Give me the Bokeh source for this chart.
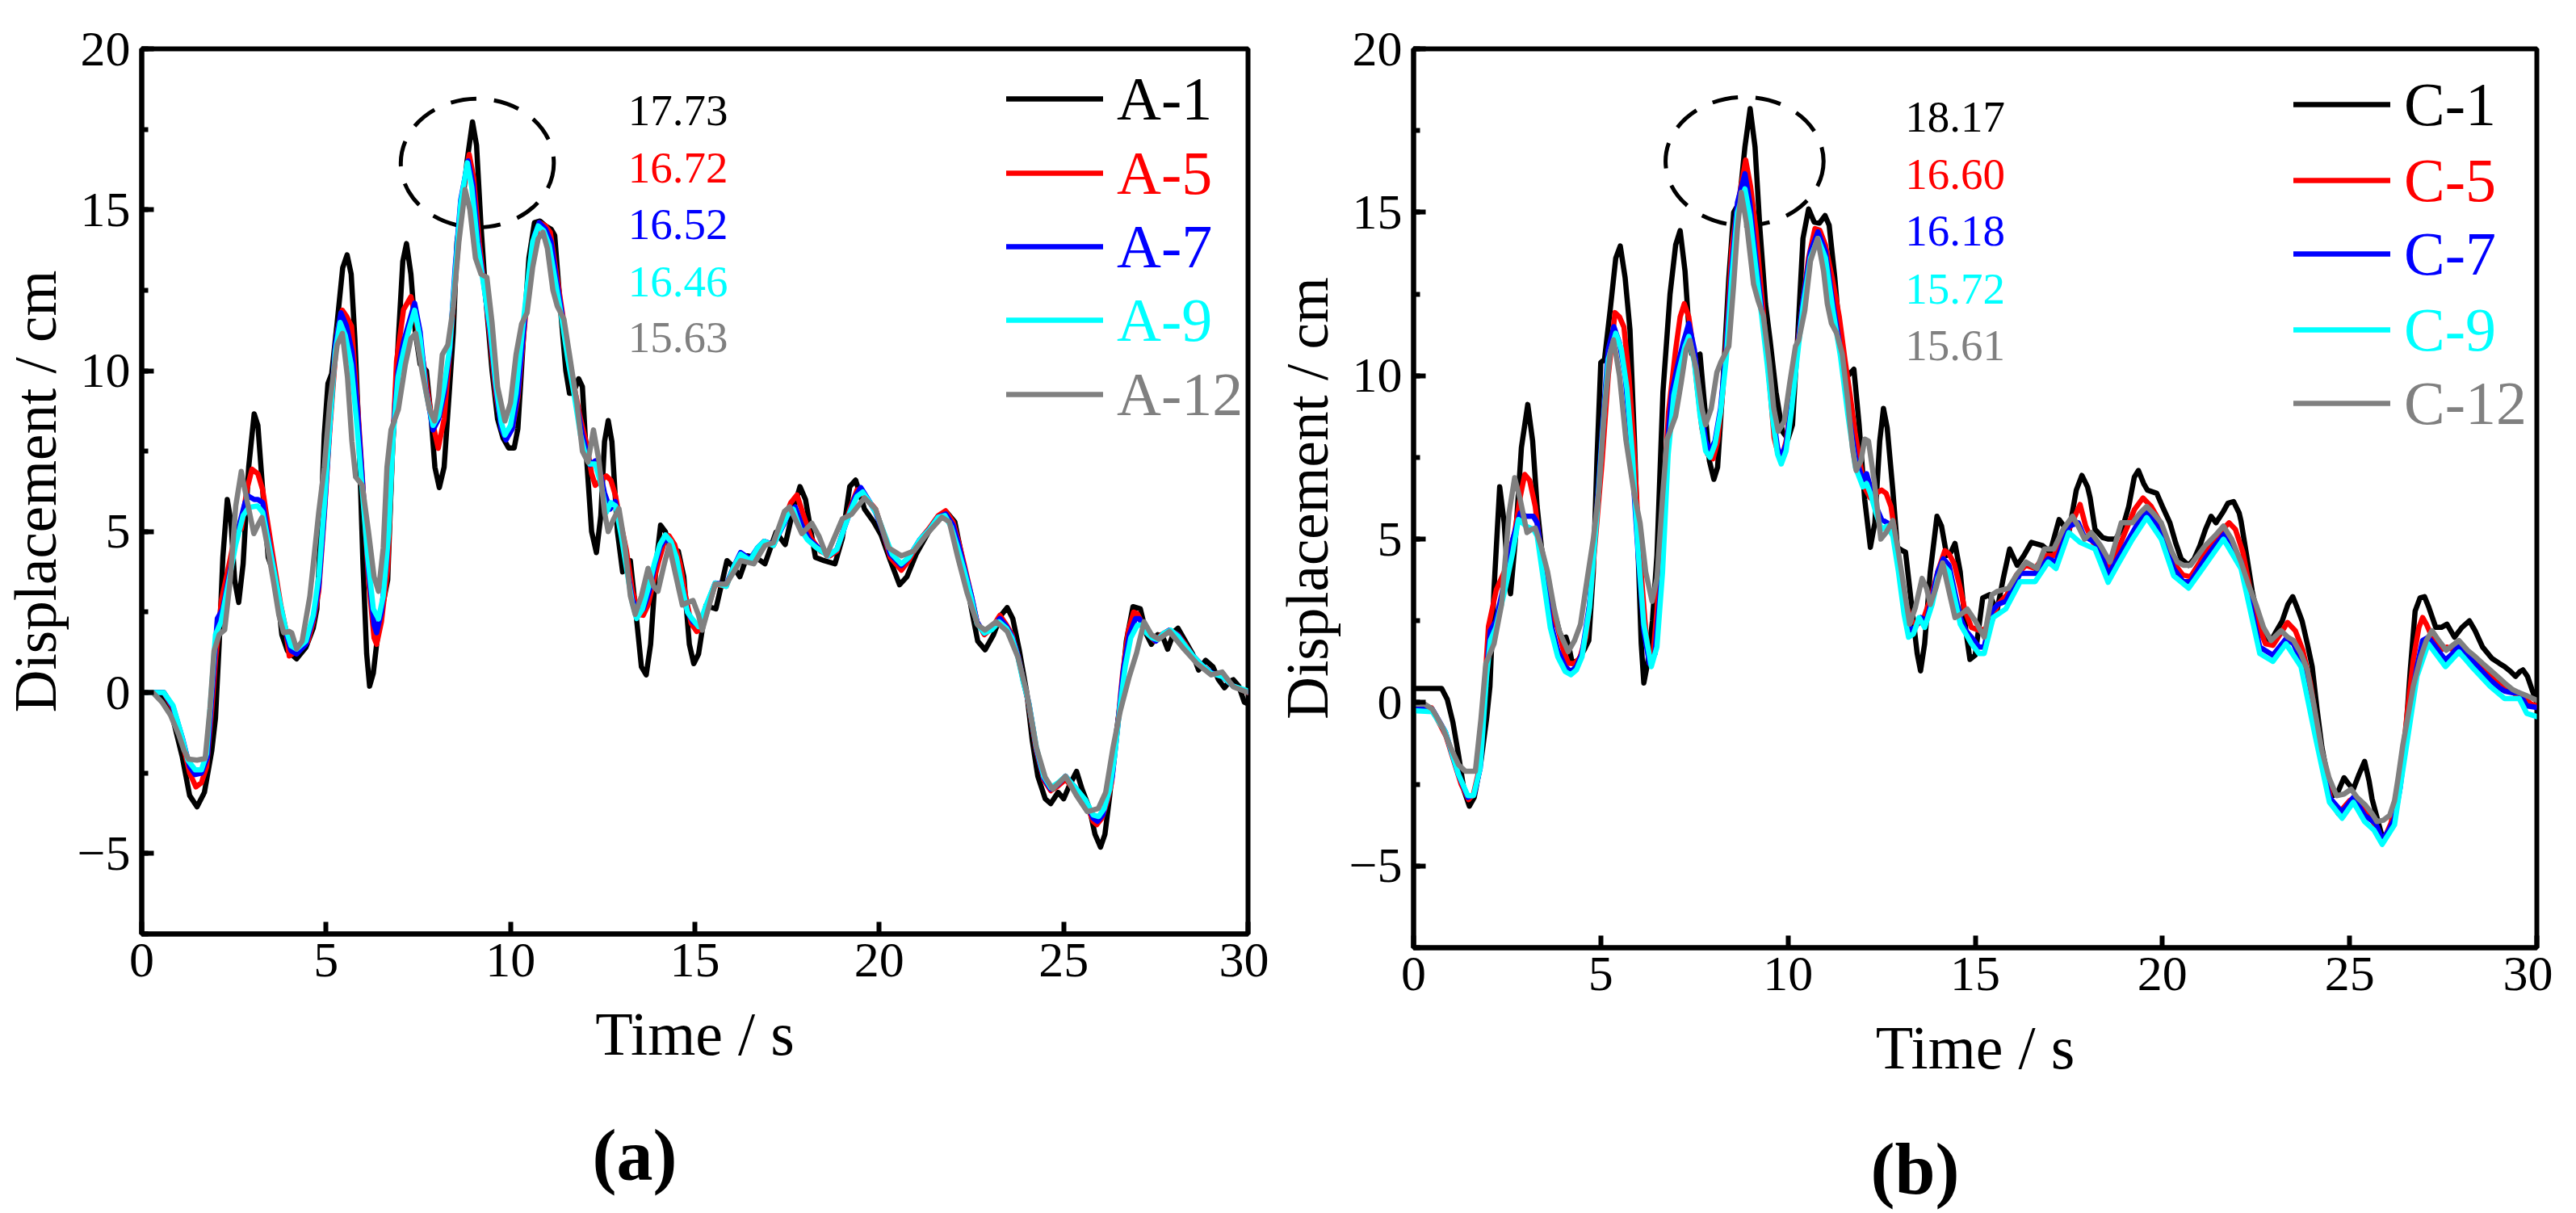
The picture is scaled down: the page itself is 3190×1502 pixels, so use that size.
from bokeh.plotting import figure
from bokeh.models import Range1d, SingleIntervalTicker, Legend, LegendItem, Label, Title
from bokeh.layouts import row
from bokeh.embed import file_html
from bokeh.resources import INLINE

# ---------------- data (time s, displacement cm) ----------------
A1 = [(0,0),(0.5,0),(0.8,-0.6),(1.1,-2.0),(1.3,-3.2),(1.5,-3.55),(1.7,-3.1),(1.9,-1.8),(2.0,-0.8),(2.1,1.5),
      (2.2,4.2),(2.32,6.0),(2.42,5.3),(2.52,3.5),(2.63,2.8),(2.75,4.0),(2.9,7.0),(3.05,8.66),(3.15,8.3),(3.3,6.0),
      (3.43,4.2),(3.55,3.8),(3.65,3.4),(3.8,1.8),(3.95,1.3),(4.2,1.05),(4.45,1.4),(4.65,2.0),(4.75,2.6),(4.85,5.0),
      (4.95,8.0),(5.05,9.6),(5.15,9.9),(5.3,11.5),(5.45,13.2),(5.57,13.6),(5.68,13.0),(5.78,11.0),(5.88,8.3),(6.0,4.0),
      (6.1,1.2),(6.18,0.2),(6.28,0.6),(6.4,1.8),(6.55,2.8),(6.67,3.5),(6.8,7.5),(6.96,11.0),(7.08,13.4),(7.18,13.95),
      (7.3,13.0),(7.42,11.2),(7.55,10.2),(7.72,10.0),(7.85,8.5),(7.95,7.0),(8.07,6.37),(8.2,7.0),(8.35,9.5),(8.45,11.2),
      (8.55,14.0),(8.7,15.2),(8.82,16.5),(8.97,17.73),(9.08,17.0),(9.2,14.5),(9.35,12.0),(9.5,10.0),(9.65,8.5),(9.8,7.9),
      (9.95,7.6),(10.1,7.6),(10.2,8.2),(10.35,11.0),(10.5,13.5),(10.65,14.6),(10.8,14.65),(10.95,14.5),(11.1,14.4),(11.2,14.2),
      (11.35,12.0),(11.5,10.0),(11.6,9.3),(11.7,9.3),(11.85,9.75),(11.95,9.5),(12.05,7.5),(12.2,5.0),(12.33,4.35),(12.45,5.5),
      (12.55,7.8),(12.65,8.45),(12.75,7.8),(12.9,5.0),(13.04,3.75),(13.15,4.1),(13.25,4.1),(13.4,2.5),(13.55,0.8),(13.68,0.55),
      (13.8,1.5),(13.95,4.0),(14.07,5.2),(14.2,5.0),(14.35,4.4),(14.55,4.4),(14.7,3.6),(14.85,1.5),(14.97,0.9),(15.1,1.2),
      (15.3,2.7),(15.57,2.6),(15.87,4.1),(16.05,3.9),(16.22,3.6),(16.42,4.25),(16.65,4.2),(16.9,4.0),(17.2,4.98),(17.45,4.6),
      (17.65,5.6),(17.85,6.4),(18.0,6.0),(18.27,4.2),(18.5,4.1),(18.8,4.0),(19.0,4.8),(19.2,6.4),(19.36,6.6),(19.6,5.7),
      (19.85,5.3),(20.05,4.9),(20.3,4.1),(20.55,3.35),(20.75,3.6),(21.0,4.3),(21.34,5.0),(21.6,5.4),(21.83,5.6),(22.05,5.3),
      (22.28,4.0),(22.5,2.6),(22.67,1.6),(22.87,1.33),(23.1,1.8),(23.3,2.4),(23.47,2.64),(23.62,2.3),(23.8,1.3),(24.0,0.0),
      (24.15,-1.5),(24.3,-2.6),(24.5,-3.3),(24.65,-3.45),(24.85,-3.1),(25.0,-3.3),(25.15,-2.9),(25.35,-2.45),(25.5,-3.0),(25.7,-3.6),
      (25.85,-4.4),(26.0,-4.8),(26.12,-4.4),(26.25,-3.2),(26.4,-1.5),(26.55,-0.2),(26.7,1.6),(26.88,2.67),(27.08,2.6),(27.25,1.8),
      (27.38,1.5),(27.55,1.8),(27.7,1.7),(27.82,1.35),(28.0,1.9),(28.1,2.0),(28.3,1.6),(28.5,1.2),(28.66,0.7),(28.85,1.0),
      (29.05,0.8),(29.2,0.4),(29.36,0.15),(29.5,0.35),(29.6,0.4),(29.75,0.2),(29.9,-0.3),(30.0,-0.35)]

A5 = [(0,0),(0.6,0),(0.85,-0.5),(1.08,-1.43),(1.3,-2.5),(1.47,-2.93),(1.62,-2.8),(1.76,-2.3),(1.9,-0.5),(2.0,1.0),
      (2.16,2.86),(2.4,4.15),(2.55,5.0),(2.7,5.08),(2.85,6.3),(2.99,6.94),(3.15,6.8),(3.28,6.3),(3.4,5.4),(3.53,4.44),
      (3.77,2.72),(3.9,2.0),(4.0,1.14),(4.2,1.29),(4.5,1.57),(4.65,2.2),(4.8,3.15),(4.95,5.5),(5.1,8.16),(5.3,11.2),
      (5.44,11.88),(5.55,11.7),(5.69,11.38),(5.85,9.0),(5.98,6.73),(6.15,3.5),(6.3,1.7),(6.37,1.5),(6.5,2.2),(6.67,3.86),
      (6.8,7.5),(6.91,10.3),(7.1,11.9),(7.3,12.3),(7.45,11.5),(7.65,10.16),(7.85,8.6),(8.04,7.59),(8.2,8.5),(8.33,10.3),
      (8.53,13.2),(8.7,15.5),(8.88,16.72),(9.0,16.0),(9.15,14.0),(9.31,12.45),(9.45,11.0),(9.6,9.3),(9.75,8.3),(9.9,7.94),
      (10.05,8.2),(10.2,9.16),(10.35,11.0),(10.49,12.74),(10.65,14.0),(10.78,14.6),(10.95,14.5),(11.08,14.3),(11.25,13.0),(11.42,11.7),
      (11.6,10.3),(11.76,9.3),(11.9,8.5),(12.06,7.73),(12.2,6.8),(12.3,6.44),(12.45,6.6),(12.6,6.73),(12.72,6.6),(12.84,6.15),
      (13.0,5.2),(13.14,4.44),(13.3,3.2),(13.48,2.43),(13.6,2.4),(13.73,2.72),(13.87,3.4),(14.0,4.0),(14.15,4.6),(14.3,4.87),
      (14.45,4.6),(14.6,4.0),(14.75,3.0),(14.9,2.15),(15.05,1.9),(15.2,2.0),(15.4,2.8),(15.55,3.37),(15.85,3.3),(16.05,3.9),
      (16.24,4.3),(16.5,4.1),(16.7,4.45),(16.88,4.7),(17.13,4.57),(17.4,5.3),(17.6,5.9),(17.77,6.14),(17.95,5.5),(18.15,4.8),
      (18.4,4.4),(18.66,4.25),(18.85,4.4),(19.0,4.94),(19.2,5.7),(19.4,6.3),(19.6,6.1),(19.9,5.7),(20.1,5.0),(20.3,4.2),
      (20.6,3.8),(20.8,4.1),(21.1,4.75),(21.35,5.1),(21.6,5.5),(21.8,5.65),(22.0,5.3),(22.15,4.7),(22.3,4.0),(22.5,3.0),
      (22.65,2.2),(22.85,1.8),(23.05,2.0),(23.27,2.4),(23.45,2.1),(23.6,1.8),(23.76,1.15),(23.9,0.4),(24.06,-0.4),(24.26,-1.8),
      (24.46,-2.7),(24.65,-3.05),(24.85,-2.9),(25.05,-2.7),(25.2,-2.9),(25.35,-3.0),(25.6,-3.4),(25.8,-4.0),(25.9,-4.1),(26.04,-3.9),
      (26.2,-3.3),(26.3,-2.8),(26.45,-1.2),(26.6,0.6),(26.75,1.9),(26.9,2.5),(27.0,2.45),(27.15,2.1),(27.3,1.8),(27.48,1.6),
      (27.65,1.8),(27.87,1.94),(28.1,1.8),(28.3,1.5),(28.5,1.15),(28.75,0.85),(29.0,0.6),(29.3,0.5),(29.6,0.2),(30.0,0.0)]

A7 = [(0,0),(0.6,0),(0.85,-0.45),(1.1,-1.4),(1.3,-2.3),(1.45,-2.55),(1.62,-2.5),(1.78,-2.0),(1.92,0.2),(2.05,2.3),
      (2.2,2.6),(2.4,3.8),(2.6,5.0),(2.8,5.9),(2.9,6.1),(3.05,6.0),(3.15,6.0),(3.28,5.9),(3.4,5.0),(3.55,4.0),
      (3.75,2.7),(3.9,1.9),(4.05,1.3),(4.2,1.2),(4.45,1.5),(4.65,2.3),(4.8,3.3),(4.95,5.6),(5.1,8.3),(5.25,10.8),
      (5.4,11.8),(5.55,11.4),(5.7,10.6),(5.85,8.8),(6.0,6.3),(6.15,3.8),(6.3,2.1),(6.37,1.86),(6.5,2.5),(6.65,4.2),
      (6.8,7.8),(6.95,10.0),(7.1,10.9),(7.25,11.5),(7.4,12.1),(7.55,11.2),(7.7,9.5),(7.9,8.16),(8.05,8.5),(8.2,9.3),
      (8.35,10.6),(8.5,13.2),(8.65,15.3),(8.85,16.52),(8.98,15.8),(9.12,14.0),(9.3,12.5),(9.45,11.2),(9.6,9.5),(9.75,8.2),
      (9.88,7.85),(10.05,8.2),(10.2,9.3),(10.35,11.2),(10.5,12.9),(10.65,14.2),(10.78,14.6),(10.95,14.4),(11.1,14.0),(11.25,12.8),
      (11.42,11.6),(11.6,10.1),(11.76,9.2),(11.95,8.0),(12.1,7.3),(12.16,7.08),(12.3,7.2),(12.4,7.0),(12.55,6.2),(12.7,5.7),
      (12.84,5.94),(13.0,5.0),(13.14,4.0),(13.3,2.9),(13.45,2.5),(13.6,2.6),(13.75,3.1),(13.9,3.9),(14.05,4.5),(14.2,4.8),
      (14.35,4.6),(14.5,4.1),(14.65,3.3),(14.8,2.5),(14.95,2.2),(15.15,2.05),(15.35,2.8),(15.55,3.4),(15.85,3.35),(16.05,3.9),
      (16.24,4.35),(16.5,4.15),(16.7,4.5),(16.88,4.7),(17.13,4.6),(17.4,5.2),(17.55,5.6),(17.72,5.77),(17.9,5.2),(18.1,4.75),
      (18.35,4.5),(18.62,4.25),(18.85,4.45),(19.0,4.94),(19.2,5.6),(19.35,6.1),(19.5,6.37),(19.7,6.0),(19.9,5.6),(20.1,5.0),
      (20.3,4.3),(20.6,3.95),(20.8,4.2),(21.1,4.75),(21.35,5.05),(21.6,5.45),(21.8,5.55),(22.0,5.2),(22.15,4.6),(22.3,3.9),
      (22.5,3.0),(22.65,2.2),(22.85,1.85),(23.05,2.0),(23.27,2.3),(23.45,2.05),(23.6,1.75),(23.76,1.15),(23.9,0.4),(24.06,-0.35),
      (24.26,-1.75),(24.46,-2.65),(24.65,-3.0),(24.85,-2.85),(25.05,-2.6),(25.2,-2.8),(25.35,-3.0),(25.6,-3.37),(25.8,-3.9),(25.92,-4.0),
      (26.06,-3.8),(26.2,-3.2),(26.32,-2.6),(26.47,-1.0),(26.62,0.7),(26.78,1.8),(26.95,2.3),(27.05,2.3),(27.2,2.0),(27.35,1.75),
      (27.5,1.6),(27.68,1.8),(27.87,1.94),(28.1,1.78),(28.3,1.45),(28.5,1.15),(28.75,0.85),(29.0,0.62),(29.3,0.5),(29.6,0.2),(30.0,0.02)]

A9 = [(0,0),(0.6,0),(0.85,-0.4),(1.05,-1.2),(1.25,-2.1),(1.45,-2.4),(1.62,-2.4),(1.76,-1.9),(1.9,0.2),(2.0,1.8),
      (2.15,2.2),(2.35,3.4),(2.55,4.6),(2.75,5.5),(2.9,5.75),(3.14,5.8),(3.28,5.6),(3.4,4.9),(3.55,4.0),(3.75,2.8),
      (3.9,2.0),(4.05,1.45),(4.2,1.35),(4.45,1.6),(4.65,2.4),(4.8,3.6),(4.95,5.8),(5.1,8.3),(5.25,10.6),(5.38,11.5),
      (5.52,11.1),(5.68,10.2),(5.82,8.5),(5.98,6.3),(6.12,4.3),(6.28,2.6),(6.42,2.29),(6.55,3.0),(6.7,5.0),(6.82,8.0),
      (6.95,9.8),(7.1,10.6),(7.25,11.3),(7.4,11.88),(7.55,11.0),(7.7,9.4),(7.9,8.3),(8.05,8.6),(8.2,9.5),(8.35,10.7),
      (8.5,13.0),(8.65,15.2),(8.83,16.46),(8.95,15.7),(9.1,14.0),(9.28,12.6),(9.45,11.3),(9.6,9.6),(9.75,8.4),(9.85,8.0),
      (10.0,8.3),(10.15,9.3),(10.3,11.0),(10.45,12.6),(10.6,14.0),(10.75,14.5),(10.9,14.35),(11.05,13.9),(11.2,12.9),(11.38,11.7),
      (11.55,10.4),(11.72,9.3),(11.9,8.0),(12.05,7.3),(12.15,7.1),(12.3,7.1),(12.45,6.5),(12.6,5.6),(12.72,5.9),(12.85,5.8),
      (13.0,4.9),(13.14,3.9),(13.3,2.8),(13.42,2.3),(13.58,2.6),(13.75,3.3),(13.9,4.0),(14.05,4.6),(14.2,4.9),(14.35,4.7),
      (14.5,4.2),(14.65,3.3),(14.8,2.5),(14.92,2.3),(15.1,2.05),(15.3,2.7),(15.55,3.4),(15.85,3.3),(16.05,3.9),(16.24,4.3),
      (16.5,4.1),(16.7,4.5),(16.88,4.7),(17.13,4.57),(17.4,5.25),(17.55,5.6),(17.67,5.7),(17.85,5.1),(18.05,4.75),(18.3,4.5),
      (18.62,4.25),(18.85,4.45),(19.0,4.94),(19.2,5.6),(19.4,6.1),(19.55,6.23),(19.75,5.9),(19.95,5.5),(20.15,4.9),(20.35,4.3),
      (20.6,4.0),(20.8,4.2),(21.1,4.75),(21.35,5.05),(21.6,5.45),(21.78,5.5),(21.95,5.15),(22.1,4.6),(22.3,3.8),(22.5,2.9),
      (22.65,2.15),(22.85,1.85),(23.05,1.95),(23.25,2.2),(23.45,2.0),(23.6,1.7),(23.76,1.1),(23.9,0.35),(24.06,-0.35),(24.26,-1.7),
      (24.46,-2.6),(24.65,-2.95),(24.85,-2.8),(25.05,-2.6),(25.2,-2.8),(25.35,-3.0),(25.6,-3.35),(25.8,-3.8),(25.95,-3.85),(26.1,-3.6),
      (26.25,-3.0),(26.38,-2.0),(26.52,-0.5),(26.67,0.8),(26.82,1.7),(27.0,2.1),(27.1,2.1),(27.25,1.85),(27.4,1.7),(27.55,1.65),
      (27.72,1.85),(27.9,1.94),(28.1,1.75),(28.3,1.45),(28.5,1.15),(28.75,0.85),(29.0,0.6),(29.3,0.5),(29.6,0.2),(30.0,0.05)]

A12 = [(0,0),(0.3,0),(0.55,-0.3),(0.78,-0.7),(1.0,-1.3),(1.15,-1.8),(1.27,-2.07),(1.5,-2.1),(1.72,-2.05),(1.85,-0.5),
       (1.96,1.29),(2.1,1.8),(2.25,1.95),(2.4,3.5),(2.55,5.8),(2.7,6.87),(2.85,6.0),(3.04,4.94),(3.15,5.2),(3.26,5.44),
       (3.4,4.6),(3.58,3.4),(3.72,2.4),(3.85,1.86),(4.0,1.9),(4.07,1.85),(4.2,1.36),(4.35,1.6),(4.56,3.0),(4.8,5.6),
       (4.95,7.0),(5.1,9.0),(5.3,10.8),(5.44,11.16),(5.58,9.8),(5.7,7.8),(5.8,6.7),(5.98,6.44),(6.15,5.0),(6.3,3.6),
       (6.42,3.15),(6.55,4.5),(6.65,7.0),(6.76,8.16),(6.96,8.8),(7.15,10.2),(7.3,11.0),(7.43,11.16),(7.6,10.0),(7.8,8.8),
       (7.94,8.44),(8.05,9.2),(8.15,10.5),(8.3,10.8),(8.45,12.0),(8.6,14.0),(8.77,15.63),(8.9,15.0),(9.05,13.5),(9.2,13.0),
       (9.36,12.9),(9.5,11.5),(9.65,9.5),(9.85,8.44),(10.0,9.0),(10.15,10.5),(10.3,11.45),(10.45,11.8),(10.6,13.2),(10.75,14.1),
       (10.88,14.3),(11.0,13.8),(11.15,12.5),(11.27,12.0),(11.45,11.6),(11.6,10.5),(11.8,9.0),(11.95,7.5),(12.1,7.16),(12.25,8.16),
       (12.4,7.2),(12.55,5.6),(12.65,5.0),(12.8,5.4),(12.94,5.72),(13.1,4.6),(13.25,3.0),(13.38,2.43),(13.55,3.0),(13.73,3.86),
       (13.88,3.3),(14.0,3.15),(14.15,3.9),(14.3,4.58),(14.45,3.8),(14.66,2.72),(14.8,2.8),(14.95,2.86),(15.1,2.4),(15.2,1.94),
       (15.55,3.37),(15.85,3.37),(16.24,4.1),(16.6,4.0),(16.9,4.57),(17.13,4.66),(17.43,5.63),(17.57,5.77),(17.9,4.94),(18.17,5.26),
       (18.37,4.85),(18.57,4.25),(19.0,5.4),(19.25,5.54),(19.6,6.05),(19.9,5.7),(20.25,4.5),(20.6,4.25),(20.94,4.4),(21.3,4.94),
       (21.7,5.45),(21.9,5.3),(22.13,4.2),(22.38,3.1),(22.67,2.1),(22.87,1.94),(23.17,2.2),(23.47,1.9),(23.76,1.1),(24.0,0.0),
       (24.26,-1.7),(24.5,-2.63),(24.7,-3.0),(25.05,-2.6),(25.35,-3.2),(25.64,-3.7),(25.94,-3.6),(26.14,-3.1),(26.34,-1.7),(26.53,-0.6),
       (26.78,0.5),(26.98,1.24),(27.18,2.2),(27.38,1.8),(27.58,1.66),(27.87,1.9),(28.27,1.34),(28.6,0.92),(29.0,0.55),(29.3,0.64),
       (29.6,0.18),(30.0,0.0)]

C1 = [(0,0.43),(0.5,0.43),(0.75,0.43),(0.9,0.1),(1.05,-0.6),(1.2,-1.6),(1.35,-2.7),(1.49,-3.17),(1.62,-2.9),(1.8,-1.8),
      (1.95,-0.5),(2.04,0.5),(2.15,3.5),(2.3,6.6),(2.42,5.5),(2.52,3.8),(2.59,3.33),(2.72,5.0),(2.88,7.8),(3.05,9.12),
      (3.18,8.0),(3.3,6.0),(3.42,4.7),(3.58,3.8),(3.75,2.8),(3.9,2.15),(3.98,1.95),(4.07,2.0),(4.15,1.7),(4.24,1.2),
      (4.4,1.3),(4.55,1.6),(4.68,1.9),(4.8,4.0),(4.9,7.5),(5.0,10.4),(5.1,10.5),(5.25,12.0),(5.4,13.6),(5.52,13.97),
      (5.65,13.0),(5.78,11.4),(5.9,8.0),(6.0,4.5),(6.08,1.8),(6.15,0.6),(6.25,1.2),(6.38,2.5),(6.5,4.5),(6.66,9.5),
      (6.85,12.5),(7.0,14.0),(7.12,14.44),(7.25,13.2),(7.35,11.5),(7.43,10.66),(7.55,10.6),(7.65,10.66),(7.78,9.0),(7.9,7.4),
      (8.02,6.83),(8.12,7.2),(8.25,9.5),(8.42,13.0),(8.55,15.0),(8.7,15.3),(8.85,17.0),(8.99,18.17),(9.12,17.0),(9.25,14.5),
      (9.4,12.2),(9.52,11.1),(9.68,9.5),(9.85,8.3),(10.0,8.06),(10.12,8.5),(10.25,11.0),(10.4,14.2),(10.55,15.1),(10.7,14.7),
      (10.84,14.67),(10.99,14.9),(11.1,14.6),(11.25,13.0),(11.4,11.0),(11.49,9.95),(11.6,10.0),(11.76,10.2),(11.9,8.5),(12.05,6.2),
      (12.2,4.75),(12.32,5.5),(12.45,8.0),(12.55,9.0),(12.65,8.4),(12.8,6.5),(12.92,4.75),(13.05,4.65),(13.14,4.6),(13.3,3.0),
      (13.45,1.5),(13.54,0.97),(13.65,1.8),(13.8,4.0),(13.98,5.7),(14.1,5.4),(14.24,4.5),(14.35,4.6),(14.46,4.87),(14.6,4.0),
      (14.75,2.2),(14.86,1.32),(15.0,1.45),(15.2,3.2),(15.38,3.3),(15.58,2.8),(15.75,3.8),(15.92,4.7),(16.12,4.2),(16.3,4.5),
      (16.5,4.9),(16.8,4.8),(17.0,4.6),(17.24,5.6),(17.5,5.2),(17.7,6.5),(17.85,6.95),(18.0,6.6),(18.07,6.26),(18.2,5.3),
      (18.4,5.05),(18.56,5.0),(18.75,5.0),(18.95,5.4),(19.1,6.0),(19.25,6.9),(19.36,7.1),(19.5,6.7),(19.6,6.5),(19.85,6.4),
      (20.0,6.0),(20.2,5.5),(20.35,4.9),(20.5,4.4),(20.7,4.2),(20.85,4.4),(21.0,4.8),(21.15,5.3),(21.3,5.7),(21.43,5.5),
      (21.63,5.85),(21.75,6.1),(21.9,6.15),(22.05,5.8),(22.1,5.55),(22.25,4.5),(22.4,3.4),(22.55,2.6),(22.7,2.0),(22.9,1.9),
      (23.05,2.2),(23.2,2.5),(23.35,3.0),(23.48,3.24),(23.6,2.9),(23.73,2.5),(23.87,1.8),(24.0,1.1),(24.13,-0.2),(24.26,-1.37),
      (24.4,-2.2),(24.55,-2.85),(24.7,-2.7),(24.85,-2.3),(24.98,-2.5),(25.1,-2.65),(25.25,-2.2),(25.4,-1.8),(25.52,-2.4),(25.6,-2.95),
      (25.75,-3.6),(25.9,-4.23),(26.05,-3.9),(26.2,-3.6),(26.35,-2.4),(26.5,-0.9),(26.62,1.0),(26.75,2.8),(26.88,3.2),(27.0,3.24),
      (27.12,2.9),(27.3,2.3),(27.45,2.3),(27.6,2.4),(27.8,2.0),(28.0,2.3),(28.2,2.5),(28.35,2.2),(28.55,1.7),(28.8,1.35),
      (29.0,1.2),(29.14,1.1),(29.3,0.95),(29.43,0.8),(29.55,0.95),(29.63,1.0),(29.75,0.8),(29.87,0.4),(30.0,0.0)]

C5 = [(0,-0.08),(0.48,-0.16),(0.87,-1.04),(1.27,-2.5),(1.47,-2.97),(1.6,-2.8),(1.76,-2.0),(1.9,0.5),(2.0,2.33),(2.21,3.45),
      (2.46,4.1),(2.7,5.2),(2.85,6.3),(2.97,6.98),(3.1,6.8),(3.25,6.0),(3.45,4.1),(3.6,3.0),(3.7,2.5),(3.84,2.33),
      (4.0,1.6),(4.14,1.2),(4.3,1.2),(4.44,1.36),(4.6,2.0),(4.73,3.3),(4.88,5.3),(5.03,7.3),(5.2,10.0),(5.38,11.93),
      (5.5,11.8),(5.62,11.48),(5.75,10.0),(5.87,8.1),(5.97,6.0),(6.07,4.1),(6.2,2.2),(6.3,1.2),(6.4,1.5),(6.5,2.8),
      (6.65,5.8),(6.81,8.9),(7.0,10.8),(7.12,11.8),(7.23,12.2),(7.35,11.8),(7.45,11.0),(7.58,9.6),(7.7,8.4),(7.85,7.6),
      (8.0,7.46),(8.12,8.0),(8.25,9.4),(8.38,11.5),(8.5,13.9),(8.67,15.3),(8.87,16.6),(9.0,15.8),(9.14,14.5),(9.27,12.8),
      (9.39,11.3),(9.52,9.6),(9.63,8.1),(9.75,7.55),(9.83,7.46),(9.95,8.0),(10.08,9.07),(10.22,10.6),(10.38,12.1),(10.55,13.6),
      (10.72,14.5),(10.85,14.45),(11.0,14.0),(11.18,13.0),(11.37,11.8),(11.52,10.5),(11.66,9.4),(11.8,8.2),(11.96,7.1),(12.08,6.5),
      (12.2,6.26),(12.35,6.4),(12.5,6.5),(12.62,6.4),(12.75,6.0),(12.88,5.0),(13.0,3.93),(13.15,3.0),(13.3,2.5),(13.45,2.4),
      (13.6,2.5),(13.72,2.9),(13.84,3.3),(14.0,4.0),(14.19,4.65),(14.3,4.55),(14.44,4.25),(14.6,3.5),(14.73,2.8),(14.9,2.3),
      (15.13,2.2),(15.4,2.33),(15.6,3.0),(15.85,3.3),(16.1,3.9),(16.35,4.2),(16.6,4.1),(16.85,4.5),(17.1,4.5),(17.35,5.0),
      (17.55,5.4),(17.8,6.06),(17.95,5.4),(18.15,4.9),(18.35,4.7),(18.55,4.0),(18.75,4.5),(19.0,5.2),(19.25,5.9),(19.48,6.26),
      (19.7,6.0),(19.95,5.5),(20.15,4.8),(20.35,4.2),(20.55,3.9),(20.75,3.85),(21.0,4.3),(21.2,4.7),(21.45,5.1),(21.65,5.35),
      (21.78,5.5),(21.95,5.3),(22.15,4.6),(22.35,3.4),(22.55,2.4),(22.75,1.8),(22.95,1.75),(23.15,2.1),(23.34,2.45),(23.55,2.2),
      (23.75,1.6),(23.95,0.6),(24.1,-0.5),(24.3,-1.8),(24.5,-3.0),(24.7,-3.4),(24.85,-3.2),(25.0,-3.0),(25.15,-2.9),(25.35,-3.1),
      (25.55,-3.5),(25.7,-3.8),(25.85,-4.25),(25.95,-4.1),(26.1,-3.7),(26.25,-3.0),(26.4,-1.8),(26.55,-0.2),(26.7,1.3),(26.85,2.3),
      (26.95,2.6),(27.05,2.4),(27.2,2.0),(27.4,1.6),(27.6,1.7),(27.8,1.6),(28.0,1.55),(28.25,1.45),(28.45,1.2),(28.7,0.9),
      (28.9,0.65),(29.1,0.5),(29.3,0.35),(29.5,0.2),(29.7,0.1),(29.85,-0.05),(30.0,-0.1)]

C7 = [(0,-0.15),(0.5,-0.2),(0.85,-0.9),(1.2,-2.2),(1.45,-2.9),(1.62,-2.8),(1.78,-2.0),(1.95,1.0),(2.05,2.2),(2.2,2.5),
      (2.45,3.8),(2.65,5.0),(2.85,5.8),(3.0,5.7),(3.2,5.7),(3.3,5.5),(3.45,4.2),(3.65,2.5),(3.85,1.6),(4.05,1.1),
      (4.2,0.95),(4.35,1.1),(4.5,1.5),(4.7,3.0),(4.9,6.0),(5.05,8.5),(5.2,10.8),(5.35,11.5),(5.5,11.0),(5.65,10.0),
      (5.8,8.0),(6.0,4.5),(6.15,2.2),(6.3,1.2),(6.45,1.5),(6.6,3.5),(6.75,7.5),(6.9,9.5),(7.05,10.3),(7.2,11.0),
      (7.35,11.6),(7.5,10.8),(7.65,9.2),(7.8,8.0),(7.92,7.7),(8.05,8.0),(8.2,9.0),(8.35,10.8),(8.5,13.3),(8.65,15.3),
      (8.85,16.18),(8.98,15.3),(9.12,13.8),(9.3,12.0),(9.45,10.5),(9.6,8.8),(9.72,7.8),(9.82,7.5),(9.95,7.9),(10.1,9.2),
      (10.25,10.8),(10.4,12.3),(10.6,13.8),(10.8,14.4),(11.0,13.8),(11.2,12.2),(11.4,10.8),(11.6,9.0),(11.8,7.5),(12.0,6.8),
      (12.1,7.0),(12.2,6.6),(12.35,6.0),(12.5,5.6),(12.65,5.5),(12.8,5.3),(12.95,4.2),(13.1,3.0),(13.25,2.2),(13.4,2.3),
      (13.55,2.6),(13.7,2.5),(13.85,3.2),(14.0,4.0),(14.15,4.4),(14.3,4.2),(14.45,3.4),(14.6,2.6),(14.75,2.2),(14.9,2.0),
      (15.1,1.7),(15.24,1.7),(15.45,2.8),(15.6,3.0),(15.82,3.1),(16.05,3.6),(16.2,3.95),(16.6,3.95),(16.95,4.4),(17.16,4.3),
      (17.35,4.9),(17.5,5.4),(17.75,5.5),(17.9,5.1),(18.2,4.9),(18.35,4.6),(18.55,3.9),(18.8,4.4),(19.2,5.2),(19.4,5.6),
      (19.6,5.9),(19.8,5.5),(20.0,5.1),(20.3,4.1),(20.55,3.7),(20.75,3.7),(21.14,4.4),(21.4,4.8),(21.65,5.15),(21.85,4.9),
      (22.1,4.3),(22.35,3.0),(22.6,1.7),(22.95,1.45),(23.3,1.95),(23.5,1.8),(23.7,1.3),(23.9,0.3),(24.07,-0.8),(24.26,-1.9),
      (24.46,-2.9),(24.8,-3.35),(25.1,-2.9),(25.4,-3.45),(25.7,-3.7),(25.87,-4.2),(26.05,-3.9),(26.2,-3.55),(26.35,-2.6),(26.5,-1.2),
      (26.65,0.1),(26.8,1.1),(26.95,1.9),(27.1,2.0),(27.3,1.7),(27.56,1.3),(27.75,1.5),(27.92,1.75),(28.1,1.5),(28.26,1.3),
      (28.5,1.0),(28.75,0.7),(29.0,0.45),(29.14,0.35),(29.35,0.3),(29.53,0.3),(29.73,-0.1),(30.0,-0.15)]

C9 = [(0,-0.25),(0.5,-0.28),(0.85,-0.9),(1.2,-2.2),(1.45,-2.85),(1.6,-2.85),(1.78,-2.0),(1.95,0.8),(2.05,1.9),(2.2,2.3),
      (2.45,3.5),(2.65,4.6),(2.8,5.6),(3.0,5.4),(3.2,5.3),(3.3,5.1),(3.45,3.9),(3.65,2.3),(3.85,1.4),(4.05,0.95),
      (4.2,0.85),(4.35,1.0),(4.5,1.4),(4.7,2.9),(4.9,5.8),(5.05,8.3),(5.2,10.5),(5.4,11.3),(5.55,10.8),(5.7,9.6),
      (5.85,7.5),(6.0,4.6),(6.15,2.4),(6.35,1.1),(6.5,1.7),(6.65,4.0),(6.8,7.6),(6.95,9.4),(7.1,10.2),(7.25,10.9),
      (7.35,11.2),(7.5,10.4),(7.65,8.8),(7.8,7.7),(7.92,7.5),(8.05,7.9),(8.2,8.9),(8.35,10.5),(8.5,13.0),(8.65,15.0),
      (8.85,15.72),(8.98,14.9),(9.12,13.5),(9.3,11.8),(9.45,10.3),(9.6,8.6),(9.72,7.6),(9.82,7.3),(9.95,7.7),(10.1,9.0),
      (10.25,10.6),(10.4,12.1),(10.6,13.6),(10.8,14.2),(11.0,13.6),(11.2,12.0),(11.4,10.6),(11.6,8.8),(11.8,7.2),(12.0,6.6),
      (12.1,6.7),(12.2,6.4),(12.35,5.8),(12.5,5.3),(12.65,5.4),(12.8,5.1),(12.95,4.0),(13.1,2.7),(13.22,2.0),(13.35,2.1),
      (13.5,2.6),(13.65,2.3),(13.85,3.0),(14.0,3.8),(14.15,4.2),(14.3,4.0),(14.45,3.2),(14.6,2.4),(14.75,2.1),(14.9,1.8),
      (15.1,1.5),(15.24,1.5),(15.48,2.6),(15.82,2.87),(16.2,3.7),(16.6,3.7),(16.95,4.3),(17.16,4.1),(17.5,5.2),(17.8,4.9),
      (18.2,4.7),(18.55,3.68),(18.8,4.2),(19.2,5.0),(19.58,5.66),(19.97,5.0),(20.3,3.88),(20.7,3.5),(21.14,4.2),(21.63,5.0),
      (22.1,4.1),(22.6,1.5),(22.95,1.26),(23.3,1.8),(23.7,1.1),(24.07,-0.97),(24.46,-3.05),(24.8,-3.54),(25.1,-3.05),(25.4,-3.64),
      (25.65,-3.9),(25.87,-4.34),(26.2,-3.74),(26.5,-1.47),(26.8,0.81),(27.1,1.8),(27.56,1.1),(27.92,1.55),(28.26,1.1),(28.75,0.5),
      (29.14,0.12),(29.53,0.12),(29.73,-0.33),(30.0,-0.43)]

C12 = [(0,-0.05),(0.3,-0.05),(0.5,-0.2),(0.75,-0.7),(1.0,-1.4),(1.2,-1.9),(1.38,-2.1),(1.65,-2.1),(1.8,-0.5),(1.93,1.2),
       (2.15,1.8),(2.35,3.0),(2.55,5.8),(2.7,6.88),(2.85,6.2),(3.03,5.2),(3.15,5.3),(3.25,5.34),(3.4,4.8),(3.58,4.0),
       (3.75,2.9),(3.9,2.15),(4.13,1.56),(4.3,1.9),(4.46,2.4),(4.6,3.5),(4.8,5.0),(4.95,6.5),(5.1,9.0),(5.25,10.7),
       (5.34,11.1),(5.5,10.0),(5.67,8.05),(5.89,6.4),(6.05,5.5),(6.2,4.0),(6.37,3.1),(6.5,3.8),(6.65,6.3),(6.77,8.05),
       (7.0,8.77),(7.15,9.8),(7.28,10.8),(7.38,11.08),(7.55,10.2),(7.7,9.0),(7.8,8.5),(7.95,9.0),(8.1,10.1),(8.2,10.4),
       (8.42,10.9),(8.55,12.8),(8.65,14.5),(8.75,15.61),(8.9,14.6),(9.08,12.8),(9.2,12.3),(9.34,11.84),(9.5,10.4),(9.62,9.0),
       (9.74,8.3),(9.9,8.6),(10.05,9.8),(10.2,10.9),(10.29,11.1),(10.45,12.0),(10.6,13.5),(10.79,14.2),(10.95,13.2),(11.05,12.2),
       (11.16,11.6),(11.3,11.3),(11.45,10.66),(11.6,9.2),(11.72,7.8),(11.82,7.1),(11.95,7.4),(12.05,8.06),(12.15,8.0),(12.3,6.8),
       (12.48,5.0),(12.62,5.2),(12.8,5.57),(12.95,4.6),(13.1,3.5),(13.25,2.4),(13.4,2.9),(13.58,3.8),(13.7,3.5),(13.8,3.0),
       (13.95,3.5),(14.13,4.27),(14.3,3.4),(14.46,2.6),(14.62,2.7),(14.79,2.86),(15.0,2.5),(15.24,2.0),(15.45,3.3),(15.58,3.4),
       (15.89,3.5),(16.1,3.9),(16.36,4.3),(16.65,4.1),(16.85,4.7),(17.1,4.7),(17.35,5.3),(17.6,5.7),(17.75,5.4),(17.92,5.0),
       (18.1,5.2),(18.35,4.8),(18.6,4.3),(18.75,4.9),(18.9,5.5),(19.2,5.5),(19.4,5.8),(19.58,6.0),(19.75,5.8),(19.97,5.5),
       (20.1,5.1),(20.26,4.6),(20.4,4.3),(20.56,4.2),(20.75,4.2),(20.95,4.5),(21.14,4.8),(21.4,5.1),(21.63,5.4),(21.85,5.0),
       (22.1,4.3),(22.3,3.6),(22.5,3.0),(22.7,2.3),(22.9,1.9),(23.17,2.2),(23.35,2.0),(23.5,1.9),(23.7,1.5),(23.87,1.0),
       (24.05,-0.1),(24.26,-1.47),(24.45,-2.3),(24.65,-2.85),(24.85,-2.8),(25.04,-2.65),(25.2,-2.9),(25.43,-3.15),(25.6,-3.4),(25.73,-3.64),
       (25.9,-3.6),(26.07,-3.45),(26.2,-3.0),(26.3,-2.27),(26.42,-1.3),(26.55,-0.47),(26.7,0.5),(26.9,1.4),(27.05,1.9),(27.2,2.2),
       (27.38,1.9),(27.58,1.6),(27.75,1.75),(27.92,1.9),(28.15,1.6),(28.36,1.4),(28.55,1.2),(28.75,1.0),(28.95,0.8),(29.14,0.6),
       (29.35,0.4),(29.53,0.3),(29.75,0.2),(30.0,0.07)]

NAMES_A = ["A-1", "A-5", "A-7", "A-9", "A-12"]
NAMES_C = ["C-1", "C-5", "C-7", "C-9", "C-12"]
PEAKS_A = [17.73, 16.72, 16.52, 16.46, 15.63]
PEAKS_C = [18.17, 16.60, 16.18, 15.72, 15.61]
X_TICK_STEP = 5
Y_TICK_STEP = 5

# ---------------- styles ----------------
COLORS = ["#000000", "#ff0000", "#0000ff", "#00ffff", "#808080"]
FONT = "Liberation Serif"


def make_panel(series, names, peaks, caption, g):
    p = figure(frame_width=g["fw"], frame_height=g["fh"],
               x_range=Range1d(0, 30), y_range=Range1d(-7.5, 20),
               output_backend="svg", toolbar_location=None,
               min_border_left=g["bl"], min_border_right=g["br"],
               min_border_top=g["bt"], min_border_bottom=g["bb"],
               background_fill_color="white", border_fill_color="white")
    p.xgrid.visible = False
    p.ygrid.visible = False
    p.outline_line_color = "black"
    p.outline_line_width = 6
    p.outline_line_alpha = 1.0

    p.xaxis.ticker = SingleIntervalTicker(interval=X_TICK_STEP, num_minor_ticks=0)
    p.yaxis.ticker = SingleIntervalTicker(interval=Y_TICK_STEP, num_minor_ticks=2)
    p.yaxis.major_label_overrides = {-5: "\u22125"}
    for ax in (p.xaxis[0], p.yaxis[0]):
        ax.axis_line_width = 6
        ax.axis_line_color = "black"
        ax.major_tick_in = 15
        ax.major_tick_out = 0
        ax.minor_tick_in = 8
        ax.minor_tick_out = 0
        ax.major_tick_line_width = 6
        ax.minor_tick_line_width = 6
        ax.major_label_text_font = FONT
        ax.major_label_text_font_size = "62px"
        ax.major_label_text_color = "black"
        ax.axis_label_text_font = FONT
        ax.axis_label_text_font_style = "normal"
        ax.axis_label_text_color = "black"
    p.xaxis.axis_label_text_font_size = "76px"
    p.yaxis.axis_label_text_font_size = "73px"
    p.xaxis.minor_tick_line_color = None
    p.xaxis.axis_label = "Time / s"
    p.yaxis.axis_label = "Displacement / cm"
    p.xaxis.major_label_standoff = 12
    p.yaxis.major_label_standoff = 14
    p.xaxis.axis_label_standoff = 26
    p.yaxis.axis_label_standoff = 8

    # highlight of the peak region
    p.ellipse(x=[g["ex"]], y=[g["ey"]], width=[g["ew"]], height=[g["eh"]],
              fill_color=None, line_color="black", line_width=5, line_dash="32 22")

    rends = []
    for s, col in zip(series, COLORS):
        t = [q[0] for q in s]
        v = [q[1] for q in s]
        r = p.line(t, v, line_color=col, line_width=6.5, line_join="round", line_cap="round")
        rends.append(r)

    # one legend per series so that every label takes its series colour
    for i, (r, name, col) in enumerate(zip(rends, names, COLORS)):
        leg = Legend(items=[LegendItem(label=name, renderers=[r])],
                     location=(g["lx"], g["ly"][i]),
                     glyph_width=120, glyph_height=90, label_height=90,
                     label_standoff=17, padding=0, margin=0, spacing=0,
                     border_line_alpha=0, background_fill_alpha=0,
                     label_text_font=FONT, label_text_font_size="76px",
                     label_text_color=col)
        p.add_layout(leg, "center")

    # peak values
    for i, (pk, col) in enumerate(zip(peaks, COLORS)):
        p.add_layout(Label(x=g["ax"], y=g["ay"][i], text="%.2f" % pk, text_color=col,
                           text_font=FONT, text_font_size="55px",
                           text_baseline="alphabetic", text_align="left"))

    # sub-figure caption below the axis title
    p.add_layout(Title(text=caption, align="left", offset=g["co"], standoff=g["cs"],
                       text_font=FONT, text_font_size="90px", text_font_style="bold",
                       text_color="black"), "below")
    return p


GA = dict(fw=1370, fh=1096, bl=169, br=26, bt=60, bb=330,
          ex=9.1, ey=16.45, ew=4.15, eh=4.0,
          lx=1071, ly=[989, 897, 806, 715, 623],
          ax=13.19, ay=[18.07, 16.31, 14.55, 12.75, 11.02],
          co=558, cs=108)
GB = dict(fw=1391, fh=1113, bl=179, br=20, bt=46, bb=327,
          ex=8.84, ey=16.56, ew=4.22, eh=3.93,
          lx=1090, ly=[999, 905, 814, 720, 629],
          ax=13.13, ay=[17.92, 16.17, 14.44, 12.66, 10.91],
          co=566, cs=108)

pa = make_panel([A1, A5, A7, A9, A12], NAMES_A, PEAKS_A, "(a)", GA)
pb = make_panel([C1, C5, C7, C9, C12], NAMES_C, PEAKS_C, "(b)", GB)

layout = row(pa, pb)
open("out.html", "w").write(file_html(layout, INLINE))
